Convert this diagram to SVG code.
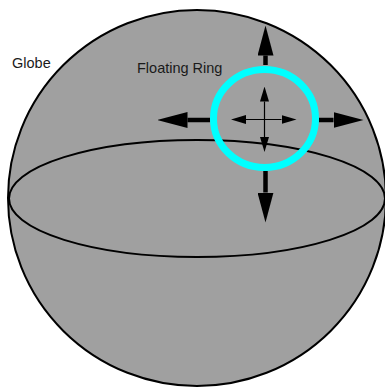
<svg xmlns="http://www.w3.org/2000/svg" width="385" height="387" viewBox="0 0 385 387">
<style>
.lbl{font-family:"Liberation Sans",Arial,sans-serif;font-size:14.5px;fill:#1a1a1a}
.big{stroke:#000;stroke-width:4.5;fill:none}
.small{stroke:#000;stroke-width:1.2;fill:none}
</style>
<defs>
<marker id="bigHead" markerUnits="userSpaceOnUse" markerWidth="30" markerHeight="16" viewBox="0 0 30 16" refX="0" refY="8" orient="auto-start-reverse">
<path d="M0,0 L30,8 L0,16 Z" fill="#000"/>
</marker>
<marker id="smallHead" markerUnits="userSpaceOnUse" markerWidth="15" markerHeight="9" viewBox="0 0 15 9" refX="0" refY="4.5" orient="auto-start-reverse">
<path d="M0,0 L15,4.5 L0,9 Z" fill="#000"/>
</marker>
</defs>
<g id="globe">
<ellipse cx="197" cy="198" rx="189" ry="188" fill="#a0a0a0" stroke="#000" stroke-width="2"/>
<ellipse cx="197" cy="198.5" rx="188" ry="58.5" fill="none" stroke="#000" stroke-width="2"/>
<text class="lbl" x="12" y="68">Globe</text>
</g>
<g id="ring">
<ellipse cx="264.5" cy="118.5" rx="51" ry="49" fill="none" stroke="#00ffff" stroke-width="7"/>
<text class="lbl" x="137" y="73">Floating Ring</text>
</g>
<g id="connectors">
<line class="big" x1="265.5" y1="65" x2="265.5" y2="55.5" marker-end="url(#bigHead)"/>
<line class="big" x1="265.5" y1="171" x2="265.5" y2="192.5" marker-end="url(#bigHead)"/>
<line class="big" x1="210" y1="120" x2="187.5" y2="120" marker-end="url(#bigHead)"/>
<line class="big" x1="319" y1="120" x2="333.5" y2="120" marker-end="url(#bigHead)"/>
<line class="small" x1="246" y1="119.5" x2="281.5" y2="119.5" marker-start="url(#smallHead)" marker-end="url(#smallHead)"/>
<line class="small" x1="264.5" y1="101.5" x2="264.5" y2="137" marker-start="url(#smallHead)" marker-end="url(#smallHead)"/>
</g>
</svg>
